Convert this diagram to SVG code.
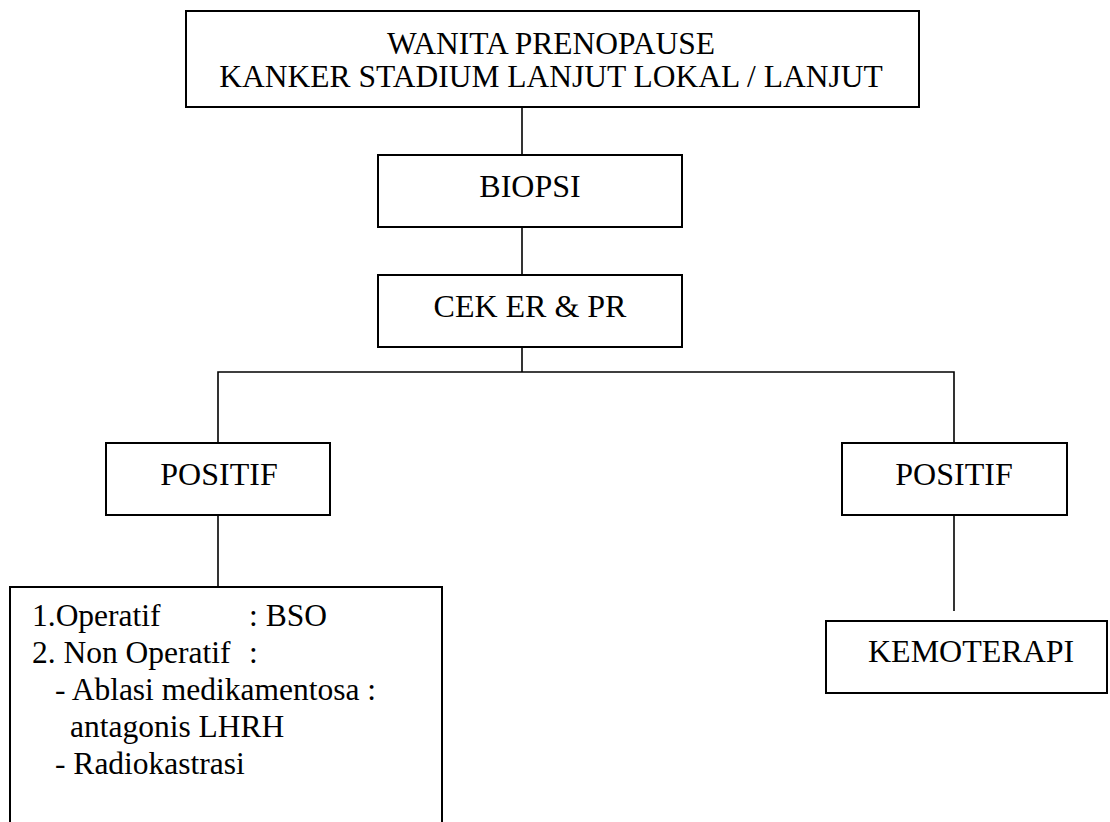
<svg xmlns="http://www.w3.org/2000/svg" width="1110" height="822" viewBox="0 0 1110 822">
<style>
.box{fill:#fff;stroke:#000;stroke-width:2}
.ln{fill:none;stroke:#000;stroke-width:1.6}
.t{font-family:"Liberation Serif","Times New Roman",serif;font-size:32px;fill:#000}
.h{font-size:31.5px}
.c{text-anchor:middle}
.l{font-family:"Liberation Serif","Times New Roman",serif;font-size:31.5px;fill:#000}
</style>
<g id="connectors">
<line class="ln" x1="522" y1="107" x2="522" y2="155"/>
<line class="ln" x1="522" y1="227" x2="522" y2="275"/>
<line class="ln" x1="522" y1="347" x2="522" y2="372"/>
<polyline class="ln" points="218,443 218,372 954,372 954,443"/>
<line class="ln" x1="218" y1="515" x2="218" y2="587"/>
<line class="ln" x1="954" y1="515" x2="954" y2="611"/>
</g>
<g id="n-top">
<rect class="box" x="186" y="11" width="733" height="96"/>
<text class="t h c" x="551" y="54">WANITA PRENOPAUSE</text>
<text class="t h c" x="551" y="87">KANKER STADIUM LANJUT LOKAL / LANJUT</text>
</g>
<g id="n-biopsi">
<rect class="box" x="378" y="155" width="304" height="72"/>
<text class="t c" x="530" y="197">BIOPSI</text>
</g>
<g id="n-cek">
<rect class="box" x="378" y="275" width="304" height="72"/>
<text class="t c" x="530" y="317">CEK ER &amp; PR</text>
</g>
<g id="n-pos-left">
<rect class="box" x="106" y="443" width="224" height="72"/>
<text class="t c" x="219" y="485">POSITIF</text>
</g>
<g id="n-pos-right">
<rect class="box" x="842" y="443" width="225" height="72"/>
<text class="t c" x="954" y="485">POSITIF</text>
</g>
<g id="n-terapi-left">
<rect class="box" x="10" y="587" width="432" height="250"/>
<text class="l" x="32" y="626">1.Operatif</text>
<text class="l" x="249" y="626">: BSO</text>
<text class="l" x="32" y="663">2. Non Operatif</text>
<text class="l" x="249" y="663">:</text>
<text class="l" x="55" y="700" xml:space="preserve">- Ablasi medikamentosa :</text>
<text class="l" x="70" y="737">antagonis LHRH</text>
<text class="l" x="55" y="774">- Radiokastrasi</text>
</g>
<g id="n-kemo">
<rect class="box" x="826" y="621" width="281" height="72"/>
<text class="t" x="868" y="662">KEMOTERAPI</text>
</g>
</svg>
